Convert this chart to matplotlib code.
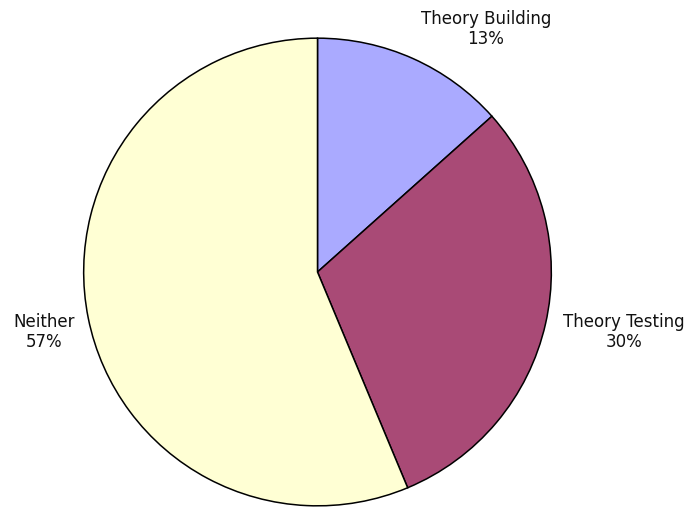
import matplotlib
matplotlib.use("Agg")
import matplotlib.pyplot as plt

categories = ["Theory Building", "Theory Testing", "Neither"]
shares = [13.4, 30.3, 56.3]
pct_labels = ["13%", "30%", "57%"]
colors = ["#AAAAFF", "#A94A76", "#FFFFD4"]

W, H = 687, 508
fig = plt.figure(figsize=(W / 100, H / 100), dpi=100)
cx, cy, r = 317.5, 272, 235
ax = fig.add_axes([(cx - r) / W, (H - cy - r) / H, 2 * r / W, 2 * r / H])
ax.pie(shares, colors=colors, startangle=90, counterclock=False, radius=1,
       wedgeprops=dict(edgecolor="black", linewidth=1.1))
ax.set_xlim(-1.005, 1.005)
ax.set_ylim(-1.005, 1.005)
ax.set_aspect("equal")
ax.axis("off")

label_pos = [(486, 29), (624, 332), (44, 332)]
for name, pct, (x, y) in zip(categories, pct_labels, label_pos):
    fig.text(x / W, 1 - y / H, f"{name}\n{pct}", ha="center", va="center",
             fontsize=12, family="DejaVu Sans", color="#111111", linespacing=1.1)

fig.savefig("out.png", dpi=100, facecolor="white")
